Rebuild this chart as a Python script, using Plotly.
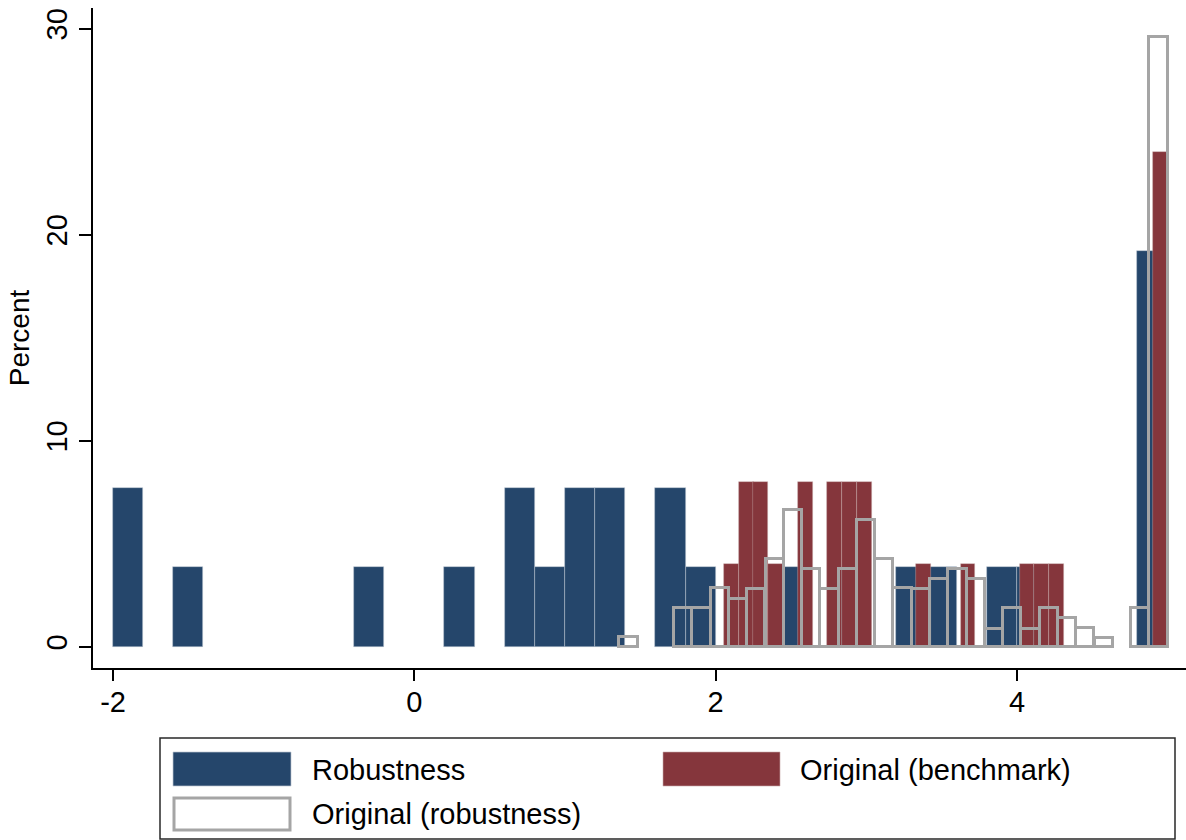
import plotly.graph_objects as go

# ---------------- data (percent per histogram bin) ----------------
# Robustness: bins of width 0.2 starting at -2
rob_left = [-2.0, -1.6, -0.4, 0.2, 0.6, 0.8, 1.0, 1.2, 1.6, 1.8, 2.4, 2.8, 3.2, 3.4, 3.8, 4.0, 4.8]
rob_pct = [7.69, 3.85, 3.85, 3.85, 7.69, 3.85, 7.69, 7.69, 7.69, 3.85, 3.85, 3.85, 3.85, 3.85, 3.85, 3.85, 19.23]
rob_width = 0.2

# Original (benchmark): 30 bins from 2.055 to 5
bench_left = [2.055, 2.153, 2.251, 2.350, 2.546, 2.742, 2.840, 2.938, 3.331, 3.626, 4.018, 4.116, 4.215, 4.902]
bench_pct = [4, 8, 8, 4, 8, 8, 8, 8, 4, 4, 4, 4, 4, 24]
bench_width = 0.0982

# Original (robustness): 30 bins from 1.36 to 5
orig_left = [1.360, 1.724, 1.845, 1.967, 2.088, 2.209, 2.331, 2.452, 2.573, 2.695, 2.816, 2.937,
             3.059, 3.180, 3.301, 3.423, 3.544, 3.665, 3.787, 3.908, 4.029, 4.151, 4.272, 4.393,
             4.515, 4.757, 4.879]
orig_pct = [0.46, 1.89, 1.89, 2.86, 2.34, 2.82, 4.27, 6.62, 3.79, 2.82, 3.79, 6.14,
            4.27, 2.86, 2.80, 3.31, 3.79, 3.31, 0.88, 1.87, 0.88, 1.89, 1.40, 0.91,
            0.43, 1.89, 29.6]
orig_width = 0.1213

x_ticks = [-2, 0, 2, 4]
y_ticks = [0, 10, 20, 30]

names = ["Robustness", "Original (benchmark)", "Original (robustness)"]

BLUE = "rgb(37,70,107)"
RED = "rgb(133,54,60)"
GRAY = "rgb(165,165,165)"
FONT = "Liberation Sans, Arial, Helvetica, sans-serif"


def centers(lefts, w):
    return [l + w / 2 for l in lefts]


fig = go.Figure()
fig.add_trace(go.Bar(
    x=centers(rob_left, rob_width), y=rob_pct, width=[rob_width] * len(rob_left),
    name=names[0], marker=dict(color=BLUE, line=dict(color="rgba(190,198,210,0.7)", width=0.7)),
))
fig.add_trace(go.Bar(
    x=centers(bench_left, bench_width), y=bench_pct, width=[bench_width] * len(bench_left),
    name=names[1], marker=dict(color=RED, line=dict(color="rgba(200,170,172,0.6)", width=0.7)),
))
fig.add_trace(go.Bar(
    x=centers(orig_left, orig_width), y=orig_pct, width=[orig_width] * len(orig_left),
    name=names[2], marker=dict(color="rgba(0,0,0,0)", line=dict(color=GRAY, width=3)),
))

W, H = 1186, 840
ml, mr, mt, mb = 93, 0, 8, 172
pw, ph = W - ml - mr, H - mt - mb


def px(x):
    return (x - ml) / pw


def py(y):
    return (H - mb - y) / ph


shapes = [
    # legend frame
    dict(type="rect", xref="paper", yref="paper", x0=px(160), x1=px(1175), y0=py(738), y1=py(839),
         line=dict(color="rgb(40,40,40)", width=1.5), fillcolor="white", layer="above"),
    dict(type="rect", xref="paper", yref="paper", x0=px(173), x1=px(291), y0=py(752), y1=py(786),
         line=dict(color="rgba(190,198,210,0.7)", width=1), fillcolor=BLUE),
    dict(type="rect", xref="paper", yref="paper", x0=px(663), x1=px(780), y0=py(752), y1=py(786),
         line=dict(color="rgba(200,170,172,0.6)", width=1), fillcolor=RED),
    dict(type="rect", xref="paper", yref="paper", x0=px(174), x1=px(290), y0=py(798), y1=py(830),
         line=dict(color=GRAY, width=3), fillcolor="white"),
]
annotations = [
    dict(text=names[0], x=px(310), y=py(770), xref="paper", yref="paper", xanchor="left",
         yanchor="middle", showarrow=False, font=dict(size=29, family=FONT, color="black")),
    dict(text=names[1], x=px(798), y=py(770), xref="paper", yref="paper", xanchor="left",
         yanchor="middle", showarrow=False, font=dict(size=29, family=FONT, color="black")),
    dict(text=names[2], x=px(310), y=py(814), xref="paper", yref="paper", xanchor="left",
         yanchor="middle", showarrow=False, font=dict(size=29, family=FONT, color="black")),
]

fig.update_layout(
    width=W, height=H,
    margin=dict(l=ml, r=mr, t=mt, b=mb, pad=0),
    paper_bgcolor="white", plot_bgcolor="white",
    barmode="overlay", bargap=0, showlegend=False,
    font=dict(family=FONT, color="black", size=28),
    shapes=shapes, annotations=annotations,
    xaxis=dict(range=[-2.133, 5.122], tickmode="array", tickvals=x_ticks,
               ticktext=[str(v) for v in x_ticks], showgrid=False, zeroline=False,
               showline=True, linecolor="black", linewidth=2, ticks="outside",
               ticklen=11, tickwidth=2, tickcolor="black", tickfont=dict(size=29),
               ticklabelstandoff=-4),
    yaxis=dict(range=[-1.03, 31.0], tickmode="array", tickvals=y_ticks,
               ticktext=[str(v) for v in y_ticks], showgrid=False, zeroline=False,
               showline=True, linecolor="black", linewidth=2, ticks="outside",
               ticklen=12, tickwidth=2, tickcolor="black", tickangle=-90,
               tickfont=dict(size=29),
               title=dict(text="Percent", font=dict(size=28), standoff=4)),
)

fig.write_html("out.html")
